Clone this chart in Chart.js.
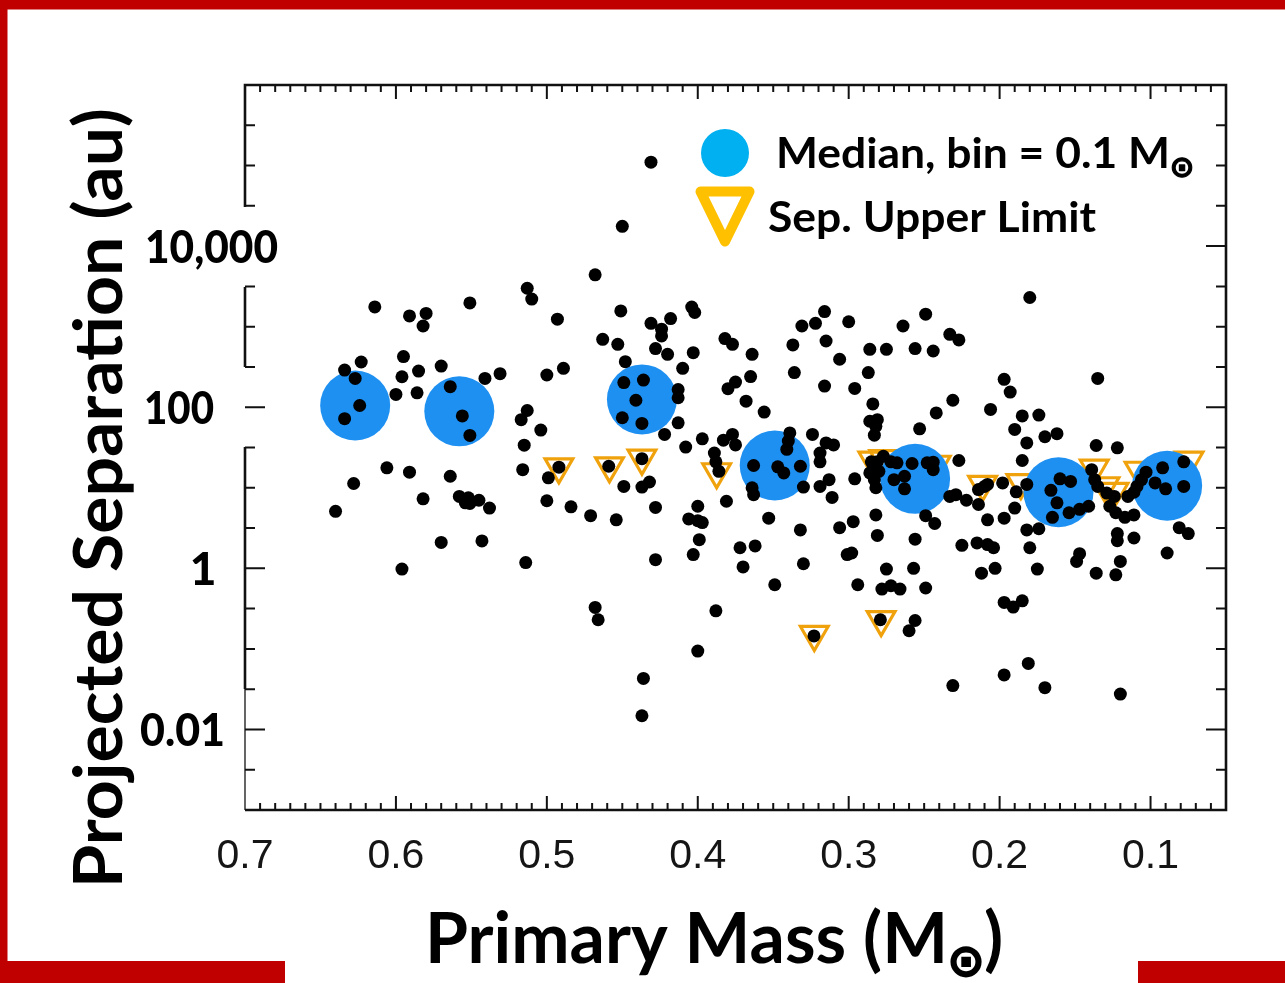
<!DOCTYPE html>
<html><head><meta charset="utf-8">
<script src="https://cdn.jsdelivr.net/npm/chart.js@4.4.1/dist/chart.umd.min.js"></script>
<style>html,body{margin:0;padding:0;background:#fff;overflow:hidden}canvas{display:block}</style>
</head><body>
<canvas id="c" width="1285" height="983"></canvas>
<script>
// ---- data (primary mass in Msun, projected separation in au) ----
const massData = [0.640,0.634,0.627,0.624,0.634,0.623,0.628,0.614,0.606,0.600,0.596,0.595,0.596,0.591,0.591,0.586,0.585,0.580,0.582,0.582,
0.570,0.570,0.564,0.556,0.551,0.564,0.558,0.554,0.551,0.552,0.545,0.551,0.541,0.538,0.543,0.531,0.513,0.510,0.513,0.517,
0.504,0.515,0.516,0.514,0.500,0.489,0.493,0.492,0.499,0.500,0.484,0.471,0.454,0.468,0.463,0.453,0.459,0.468,0.466,0.450,
0.431,0.451,0.431,0.448,0.428,0.449,0.436,0.441,0.450,0.437,0.437,0.449,0.437,0.432,0.428,0.428,0.436,0.437,0.422,0.413,
0.413,0.413,0.418,0.404,0.402,0.424,0.424,0.420,0.403,0.410,0.408,0.397,0.389,0.388,0.386,0.383,0.377,0.375,0.381,0.400,
0.406,0.400,0.397,0.399,0.403,0.400,0.388,0.382,0.377,0.364,0.380,0.375,0.365,0.368,0.356,0.339,0.340,0.341,0.363,0.347,
0.343,0.332,0.364,0.363,0.330,0.353,0.372,0.362,0.370,0.349,0.337,0.331,0.322,0.316,0.315,0.336,0.316,0.306,0.300,0.296,
0.286,0.275,0.256,0.244,0.264,0.249,0.233,0.227,0.287,0.284,0.286,0.281,0.282,0.283,0.253,0.242,0.231,0.324,0.319,0.319,
0.315,0.310,0.319,0.313,0.311,0.296,0.330,0.332,0.297,0.306,0.301,0.298,0.294,0.323,0.279,0.281,0.282,0.275,0.278,0.272,
0.266,0.249,0.256,0.260,0.256,0.257,0.249,0.243,0.285,0.281,0.280,0.286,0.283,0.282,0.272,0.268,0.270,0.263,0.263,0.258,
0.248,0.244,0.244,0.227,0.233,0.229,0.222,0.214,0.214,0.210,0.208,0.198,0.189,0.182,0.208,0.197,0.190,0.180,0.197,0.193,
0.206,0.185,0.174,0.190,0.182,0.170,0.162,0.135,0.185,0.136,0.122,0.166,0.160,0.153,0.162,0.165,0.154,0.147,0.141,0.139,
0.137,0.135,0.129,0.124,0.127,0.123,0.117,0.111,0.115,0.111,0.106,0.103,0.097,0.092,0.090,0.078,0.078,0.109,0.081,0.075,
0.089,0.111,0.122,0.122,0.120,0.123,0.136,0.147,0.149,0.174,0.182,0.180,0.175,0.203,0.212,0.215,0.208,0.204,0.225,0.197,
0.191,0.185,0.181,0.197,0.170,0.231,0.120,0.277];
const sepData = [5.1,289,228,105,72,364,11.3,1760,17.7,144,239,425,0.98,1360,15.6,151,281,1460,1020,7.3,
324,2.1,180,78,44.6,13.9,7.8,6.5,6.4,7.5,7.0,1970,228,5.6,2.19,261,3000,2200,91,70,
52,33.8,16.8,1.18,251,304,1240,18,13.3,6.9,5.8,4.5,4.0,4400,697,604,18.5,0.327,0.23,17600,
110000,1570,1100,368,535,202,217,122,74,63,23,10.4,10.2,11.8,5.7,1.28,0.043,0.0148,46,166,
131,64,1260,1750,1500,930,767,454,476,304,32,40.5,27,21,16,39,46,34,6.8,5.9,
4.1,3.9,3.7,2.27,1.48,0.094,0.297,711,604,454,170,205,240,119,87,48,38,30,18.9,18.2,
15.3,18.5,10,8.2,10.2,4.2,1.8,1.9,1.04,0.625,593,1020,1100,1540,664,269,183,394,1150,171,
523,523,535,499,1020,1430,804,684,269,110,67,70,58,45,54,85,122,46,27,21,
36,34,10.4,12.6,7.6,12.9,1.14,3.0,3.8,3.2,1.48,1.55,0.625,0.145,0.23,2.56,4.6,0.98,0.552,0.608,
0.552,0.57,0.225,0.168,2.3,1.0,4.5,3.6,21,21,16,15.3,12.6,10,21,20.4,12.6,13.9,9.7,20,
20.4,20.8,16.8,21.8,7.8,8.2,7.0,6.2,9.5,10.4,11,11.5,8.9,11,4.0,4.2,5.6,2300,222,154,
94,78,80,53,36,43,47,228,21.8,33.5,31.3,9.3,12.9,12,6.5,4.3,4.9,5.4,5.9,16.8,
12.6,10.4,8.6,7.8,5.9,4.9,4.3,4.6,7.8,8.8,12.6,15.6,11.5,17.7,9.7,10.4,21,10.4,3.2,2.7,
1.55,2.38,2.7,2.2,1.22,0.83,0.87,1.52,1.22,3.1,3.0,1.8,0.98,1.0,0.87,2.07,1.97,1.8,1.93,0.377,
0.33,0.395,0.066,0.0475,0.033,0.035,0.0275,24.6];
const medianMass = [0.627,0.558,0.437,0.349,0.256,0.161,0.089];
const medianSep  = [105,89,125,18.9,12.9,8.8,10.6];
const limitMass = [0.492,0.4585,0.437,0.3875,0.3228,0.2785,0.284,0.2768,0.242,0.2113,0.1859,0.1373,0.1302,0.1242,0.1076,0.0745];
const limitSep  = [18.2,18.7,23.3,15.8,0.151,0.231,22,23,19.6,11,11.6,17.5,10.6,9.0,16.5,22];
const xTickValues = [0.7,0.6,0.5,0.4,0.3,0.2,0.1];
const xTickLabels = ['0.7','0.6','0.5','0.4','0.3','0.2','0.1'];
const yTickValues = [10000,100,1,0.01];
const yTickLabels = ['10,000','100','1','0.01'];

const pts = (xs, ys) => xs.map((v, i) => ({x: v, y: ys[i]}));

function drawText(ctx, text, x, y, font, o) {
  o = o || {};
  ctx.save();
  ctx.font = font;
  const w = ctx.measureText(text).width;
  const sx = o.width ? o.width / w : 1;
  ctx.translate(x, y);
  if (o.rotate) ctx.rotate(o.rotate);
  ctx.scale(sx, 1);
  ctx.textAlign = o.align || 'left';
  ctx.textBaseline = 'alphabetic';
  ctx.fillStyle = o.color || '#000';
  ctx.fillText(text, 0, 0);
  ctx.restore();
}
function drawSun(ctx, cx, cy, d) {
  ctx.save();
  ctx.font = 'bold 100px "DejaVu Sans"';
  const m = ctx.measureText('\u2299');
  const h = m.actualBoundingBoxAscent + m.actualBoundingBoxDescent;
  const s = d / h;
  const ox = (m.actualBoundingBoxRight - m.actualBoundingBoxLeft) / 2;
  const oy = (m.actualBoundingBoxDescent - m.actualBoundingBoxAscent) / 2;
  ctx.translate(cx, cy);
  ctx.scale(s, s);
  ctx.fillStyle = '#000';
  ctx.strokeStyle = '#000';
  ctx.lineWidth = 4;
  ctx.textBaseline = 'alphabetic';
  ctx.fillText('\u2299', -ox, -oy);
  ctx.strokeText('\u2299', -ox, -oy);
  ctx.restore();
}

const decor = {
  id: 'decor',
  afterDraw(chart) {
    const ctx = chart.ctx;
    const xs = chart.scales.x, ys = chart.scales.y;
    const a = chart.chartArea;
    const L = a.left, R = a.right, T = a.top, B = a.bottom;
    ctx.save();
    // red frame
    ctx.fillStyle = '#C00000';
    ctx.fillRect(0, 0, 1285, 9.5);
    ctx.fillRect(0, 0, 7.5, 983);
    ctx.fillRect(0, 961, 285, 22);
    ctx.fillRect(1138, 961, 147, 22);

    // plot border
    ctx.strokeStyle = '#111';
    ctx.lineCap = 'butt';
    ctx.lineWidth = 2.6;
    ctx.beginPath();
    ctx.moveTo(L, B); ctx.lineTo(R, B); ctx.lineTo(R, T); ctx.lineTo(L, T);
    ctx.lineTo(L, 207);
    ctx.moveTo(L, 287); ctx.lineTo(L, 367);
    ctx.moveTo(L, 447); ctx.lineTo(L, 689);
    ctx.stroke();
    ctx.lineWidth = 1.3;
    ctx.beginPath(); ctx.moveTo(L, 689); ctx.lineTo(L, B); ctx.stroke();

    // x ticks (inward), every 0.01, majors at 0.1
    ctx.lineWidth = 2;
    ctx.beginPath();
    for (let i = 6; i <= 69; i++) {
      const px = xs.getPixelForValue(i / 100);
      const len = (i % 10 === 0) ? 14 : 7;
      ctx.moveTo(px, B); ctx.lineTo(px, B - len);
      ctx.moveTo(px, T); ctx.lineTo(px, T + len);
    }
    // y ticks (inward), every half decade, majors every 2 decades
    for (let k = -5; k <= 11; k++) {
      const py = ys.getPixelForValue(Math.pow(10, k / 2));
      const len = (k % 4 === 0) ? 20 : 10;
      if (k !== 8) { ctx.moveTo(L, py); ctx.lineTo(L + len, py); }
      ctx.moveTo(R, py); ctx.lineTo(R - len, py);
    }
    ctx.stroke();

    // x tick labels
    xTickValues.forEach((v, i) => {
      drawText(ctx, xTickLabels[i], xs.getPixelForValue(v), 868, '41px "Liberation Sans"', {align: 'center', color: '#151515'});
    });
    // y tick labels (bold)
    const yLab = [
      {cx: 211.5, w: 133}, {cx: 179, w: 70}, {cx: 203, w: 0}, {cx: 182.5, w: 85}
    ];
    yTickValues.forEach((v, i) => {
      const py = ys.getPixelForValue(v);
      drawText(ctx, yTickLabels[i], yLab[i].cx, py + 17, '900 46px Lato', {align: 'center', width: yLab[i].w || undefined});
    });

    // axis titles
    drawText(ctx, 'Primary Mass (M', 425, 963, 'bold 70px Lato', {width: 523});
    drawSun(ctx, 966, 962, 30);
    drawText(ctx, ')', 984, 963, 'bold 70px Lato', {});
    drawText(ctx, 'Projected Separation (au)', 122, 888, 'bold 66px Lato', {rotate: -Math.PI / 2, width: 780});

    // legend
    ctx.fillStyle = '#00B0F0';
    ctx.beginPath(); ctx.arc(725, 153, 24, 0, Math.PI * 2); ctx.fill();
    ctx.strokeStyle = '#FFC000';
    ctx.lineWidth = 10; ctx.lineJoin = 'round';
    ctx.beginPath(); ctx.moveTo(700.5, 191.5); ctx.lineTo(749.5, 191.5); ctx.lineTo(725, 241.5); ctx.closePath(); ctx.stroke();
    drawText(ctx, 'Median, bin = 0.1 M', 776, 168, 'bold 42px Lato', {width: 394});
    drawSun(ctx, 1182, 168, 20);
    drawText(ctx, 'Sep. Upper Limit', 768, 232, 'bold 42px Lato', {width: 328});
    ctx.restore();
  }
};

new Chart(document.getElementById('c'), {
  type: 'scatter',
  data: {
    datasets: [
      {label: 'Binaries', data: pts(massData, sepData), pointRadius: 6.5, pointBackgroundColor: '#000', pointBorderWidth: 0, borderWidth: 0},
      {label: 'Median, bin = 0.1 M\u2299', data: pts(medianMass, medianSep), pointRadius: 35, pointBackgroundColor: '#1E90F2', pointBorderWidth: 0, borderWidth: 0},
      {label: 'Sep. Upper Limit', data: pts(limitMass, limitSep), pointStyle: 'triangle', rotation: 180, pointRadius: 16, pointBackgroundColor: 'rgba(0,0,0,0)', pointBorderColor: '#F0A20C', pointBorderWidth: 3.2}
    ]
  },
  options: {
    responsive: false,
    animation: false,
    devicePixelRatio: 1,
    layout: {padding: {left: 245, right: 59, top: 85, bottom: 173}},
    plugins: {legend: {display: false}, tooltip: {enabled: false}},
    scales: {
      x: {type: 'linear', reverse: true, min: 0.05, max: 0.7, display: false},
      y: {type: 'logarithmic', min: 0.001, max: 1000000, display: false}
    }
  },
  plugins: [decor]
});
</script>
</body></html>
